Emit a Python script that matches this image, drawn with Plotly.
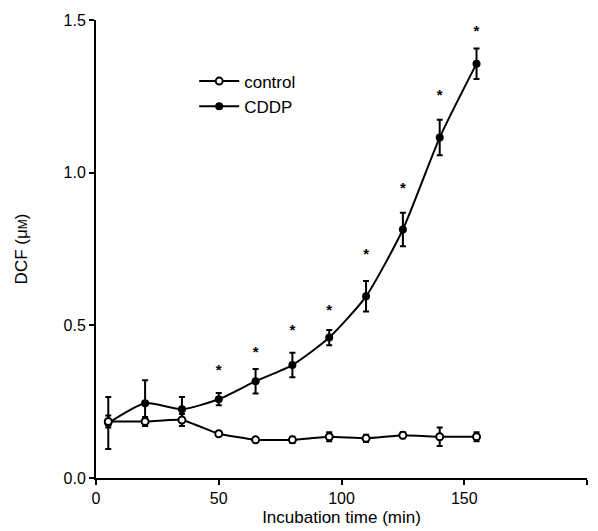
import plotly.graph_objects as go

time = [5, 20, 35, 50, 65, 80, 95, 110, 125, 140, 155]
cddp = [0.18, 0.245, 0.225, 0.258, 0.317, 0.37, 0.46, 0.595, 0.814, 1.115, 1.357]
cddp_err = [0.085, 0.075, 0.04, 0.02, 0.04, 0.04, 0.025, 0.05, 0.055, 0.058, 0.05]
control = [0.185, 0.185, 0.19, 0.145, 0.125, 0.125, 0.135, 0.13, 0.14, 0.135, 0.135]
control_err = [0.02, 0.015, 0.02, 0.005, 0.006, 0.01, 0.015, 0.012, 0.01, 0.03, 0.015]
star_time = [50, 65, 80, 95, 110, 125, 140, 155]
star_y = [0.35, 0.41, 0.48, 0.545, 0.73, 0.945, 1.25, 1.46]

x_ticks = [0, 50, 100, 150, 200]
x_ticklabels = ["0", "50", "100", "150", ""]
y_ticks = [0.0, 0.5, 1.0, 1.5]
y_ticklabels = ["0.0", "0.5", "1.0", "1.5"]

FONT = "Liberation Sans, Arial, sans-serif"

fig = go.Figure()
fig.add_trace(go.Scatter(
    x=time, y=cddp, name="CDDP", mode="lines+markers",
    line=dict(color="black", width=2, shape="spline", smoothing=0.6),
    marker=dict(symbol="circle", size=8, color="black"),
    error_y=dict(type="data", array=cddp_err, color="black", thickness=2, width=3),
))
fig.add_trace(go.Scatter(
    x=time, y=control, name="control", mode="lines+markers",
    line=dict(color="black", width=2, shape="spline", smoothing=0.4),
    marker=dict(symbol="circle", size=7, color="white", line=dict(color="black", width=2)),
    error_y=dict(type="data", array=control_err, color="black", thickness=2, width=3),
))
fig.add_trace(go.Scatter(
    x=star_time, y=star_y, mode="text", text=["<b>*</b>"] * len(star_time),
    textfont=dict(family=FONT, size=15, color="black"),
    showlegend=False, hoverinfo="skip",
))

fig.update_layout(
    width=590, height=523,
    margin=dict(l=88, r=11, t=12, b=53),
    paper_bgcolor="white", plot_bgcolor="white",
    font=dict(family=FONT, size=15, color="black"),
    legend=dict(x=0.2, y=0.905, xanchor="left", yanchor="top",
                traceorder="reversed", bgcolor="rgba(0,0,0,0)",
                font=dict(size=17), itemwidth=40, tracegroupgap=2),
    xaxis=dict(range=[0, 200], tickvals=x_ticks, ticktext=x_ticklabels, automargin=False,
               showgrid=False, zeroline=False, showline=True, linecolor="black", linewidth=2,
               ticks="outside", ticklen=5, tickwidth=2, tickcolor="black",
               tickfont=dict(size=16),
               title=dict(text="Incubation time (min)", standoff=5, font=dict(size=17))),
    yaxis=dict(range=[0, 1.5], tickvals=y_ticks, ticktext=y_ticklabels, automargin=False,
               showgrid=False, zeroline=False, showline=True, linecolor="black", linewidth=2,
               ticks="outside", ticklen=5, tickwidth=2, tickcolor="black",
               tickfont=dict(size=16),
               title=dict(text="DCF (μ<span style='font-size:12px'>M</span>)", standoff=32, font=dict(size=17))),
)

fig.write_html("out.html")
